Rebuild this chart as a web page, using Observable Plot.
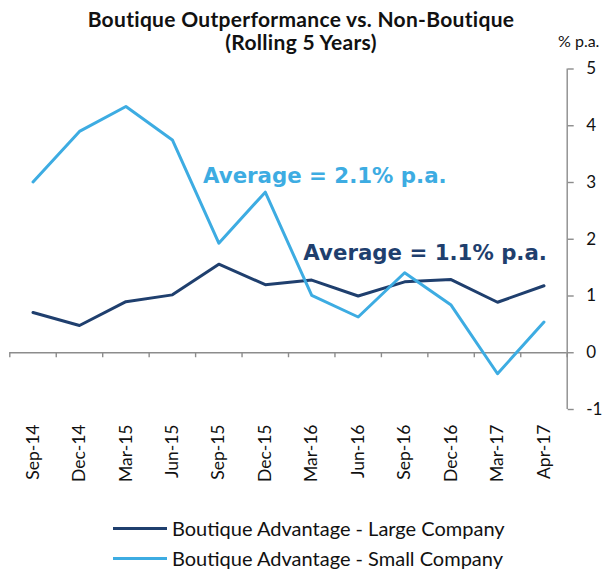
<!DOCTYPE html>
<html>
<head>
<meta charset="utf-8">
<script src="https://cdn.jsdelivr.net/npm/d3@7"></script>
<script src="https://cdn.jsdelivr.net/npm/@observablehq/plot@0.6"></script>
<style>
  body { margin: 0; background: #fff; }
  #wrap { position: relative; width: 610px; height: 570px; font-family: Lato, sans-serif; color: #111; overflow: hidden; }
  #title { position: absolute; left: 0; top: 7px; width: 602px; text-align: center; font-weight: bold; font-size: 21px; line-height: 23px; letter-spacing: 0.3px; z-index: 2; }
  #unit { position: absolute; left: 558px; top: 31px; font-size: 16px; z-index: 2; }
  #chart { position: absolute; left: 0; top: 52px; }
  #legend { position: absolute; left: 113px; top: 513px; font-size: 20px; }
  .row { display: flex; align-items: center; height: 30px; }
  .sw { width: 54px; height: 3px; margin-right: 5px; }
</style>
</head>
<body>
<div id="wrap">
  <div id="title">Boutique Outperformance vs. Non-Boutique<br>(Rolling 5 Years)</div>
  <div id="unit">% p.a.</div>
  <div id="chart"></div>
  <div id="legend"></div>
</div>
<script>
const periods = ["Sep-14","Dec-14","Mar-15","Jun-15","Sep-15","Dec-15","Mar-16","Jun-16","Sep-16","Dec-16","Mar-17","Apr-17"];
const largeCompany = [0.71, 0.48, 0.90, 1.02, 1.56, 1.20, 1.28, 1.00, 1.25, 1.29, 0.89, 1.18];
const smallCompany = [3.01, 3.90, 4.34, 3.75, 1.93, 2.83, 1.01, 0.63, 1.41, 0.84, -0.37, 0.54];
const seriesNames = ["Boutique Advantage - Large Company", "Boutique Advantage - Small Company"];
const seriesColors = ["#1f3f6e", "#3dace2"];
const yTicks = [-1, 0, 1, 2, 3, 4, 5];
const annotations = ["Average = 2.1% p.a.", "Average = 1.1% p.a."];

const idx = periods.map((_, i) => i);
const boundaries = d3.range(-0.5, periods.length, 1);
const rows = [
  ...largeCompany.map((v, i) => ({i, v, s: seriesNames[0]})),
  ...smallCompany.map((v, i) => ({i, v, s: seriesNames[1]}))
];
const gray = "#8c8c8c";

const chart = Plot.plot({
  width: 610,
  height: 448,
  marginTop: 16.5,
  marginBottom: 91,
  marginLeft: 9.3,
  marginRight: 43.3,
  style: {fontFamily: "Lato, sans-serif", fontSize: "17px", color: "#111", background: "transparent"},
  x: {type: "linear", domain: [-0.5, periods.length - 0.5], label: null},
  y: {domain: [-1, 5], label: null},
  color: {domain: seriesNames, range: seriesColors},
  marks: [
    Plot.ruleY([0], {stroke: gray, strokeWidth: 1.4}),
    Plot.ruleX([periods.length - 0.5], {stroke: gray, strokeWidth: 1.4}),
    Plot.ruleX(boundaries, {x: d => d, y1: 0, y2: 0, insetBottom: -5, stroke: gray, strokeWidth: 1.4}),
    Plot.axisX(idx, {anchor: "bottom", tickSize: 0, tickPadding: 15, tickRotate: -90, tickFormat: i => periods[i], fontSize: 17.5, label: null}),
    Plot.axisY(yTicks, {anchor: "right", tickSize: 6, tickPadding: 13, stroke: gray, strokeWidth: 1.4, fill: "#111", tickFormat: d => String(d), fontSize: 17, label: null}),
    Plot.line(rows, {x: "i", y: "v", z: "s", stroke: "s", strokeWidth: 3}),
    Plot.text([annotations[0]], {x: 3.66, y: 3.105, text: d => d, textAnchor: "start", fill: seriesColors[1], fontFamily: "DejaVu Sans, sans-serif", fontWeight: "bold", fontSize: 21.3}),
    Plot.text([annotations[1]], {x: 5.82, y: 1.747, text: d => d, textAnchor: "start", fill: seriesColors[0], fontFamily: "DejaVu Sans, sans-serif", fontWeight: "bold", fontSize: 21.3})
  ]
});
document.getElementById("chart").appendChild(chart);

const legend = document.getElementById("legend");
seriesNames.forEach((name, k) => {
  const row = document.createElement("div");
  row.className = "row";
  const sw = document.createElement("div");
  sw.className = "sw";
  sw.style.background = seriesColors[k];
  const label = document.createElement("span");
  label.textContent = name;
  row.appendChild(sw);
  row.appendChild(label);
  legend.appendChild(row);
});
</script>
</body>
</html>
